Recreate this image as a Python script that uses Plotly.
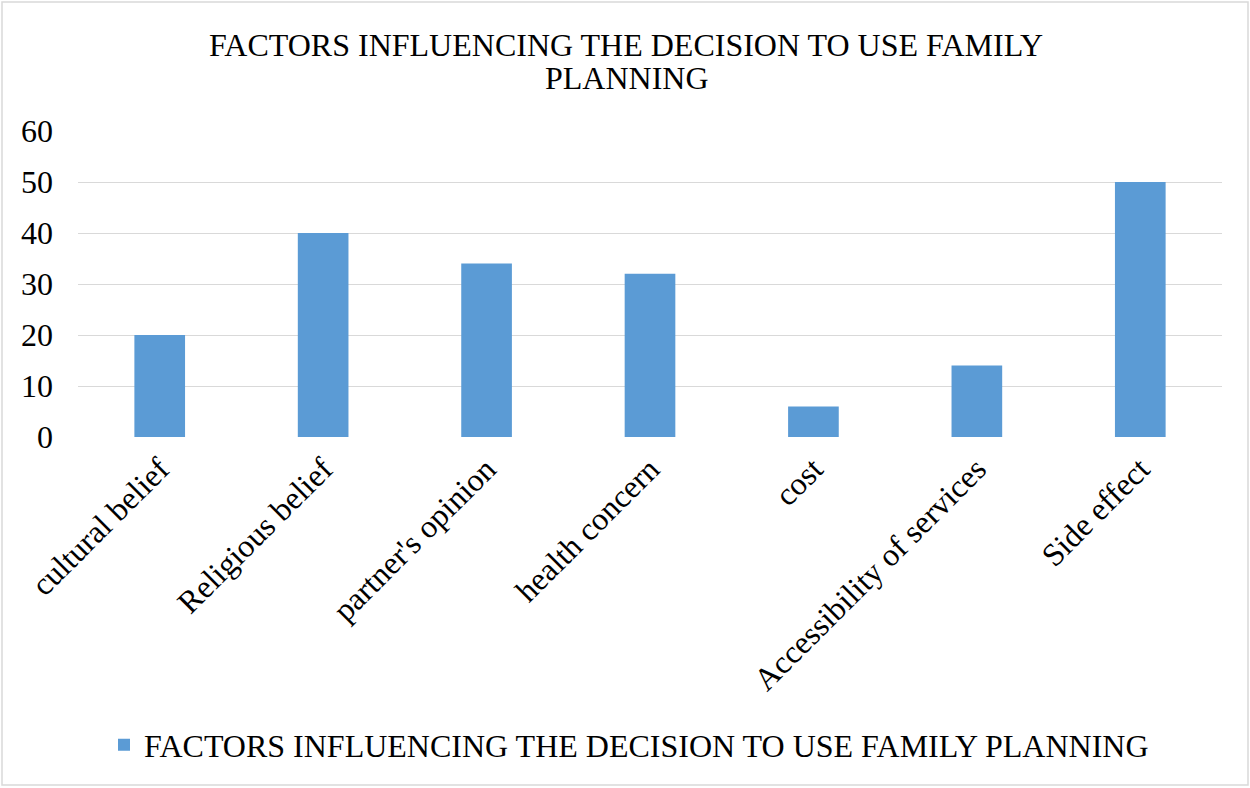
import plotly.graph_objects as go

categories = ["cultural belief", "Religious belief", "partner's opinion", "health concern",
              "cost", "Accessibility of services", "Side effect"]
values = [20, 40, 34, 32, 6, 14, 50]
series_name = "FACTORS INFLUENCING THE DECISION TO USE FAMILY PLANNING"
title_line1 = "FACTORS INFLUENCING THE DECISION TO USE FAMILY"
title_line2 = "PLANNING"

W, H = 1250, 788
L, R, T, B = 78, 28, 131, 351
pw, ph = W - L - R, H - T - B

def px_x(x):
    return (x - L) / pw

def px_y(y):
    return (H - B - y) / ph

FONT = "Liberation Serif, Times New Roman, serif"
FS = 32

fig = go.Figure()
fig.add_trace(go.Bar(x=categories, y=values, name=series_name,
                     marker=dict(color="#5b9bd5", line=dict(width=0)),
                     showlegend=True))

fig.update_layout(
    width=W, height=H,
    margin=dict(l=L, r=R, t=T, b=B),
    paper_bgcolor="white", plot_bgcolor="white",
    font=dict(family=FONT, color="black", size=FS),
    bargap=0.69,
    title=dict(text=title_line1, x=626 / W, xref="container", xanchor="center",
               y=1 - 45 / H, yref="container", yanchor="middle",
               font=dict(family=FONT, size=FS, color="black")),
    annotations=[dict(text=title_line2, xref="paper", yref="paper",
                      x=px_x(627), y=px_y(78), xanchor="center", yanchor="middle",
                      showarrow=False, font=dict(family=FONT, size=FS, color="black"))],
    xaxis=dict(tickangle=-45, tickfont=dict(size=FS, family=FONT, color="black"),
               showgrid=False, zeroline=False, showline=False,
               ticks="", ticklabelstandoff=6),
    yaxis=dict(range=[0, 60], dtick=10, tickfont=dict(size=FS, family=FONT, color="black"),
               showgrid=True, gridcolor="#d9d9d9", gridwidth=1.3,
               zeroline=False, showline=False, ticks="", ticklabelstandoff=24),
    legend=dict(orientation="h", x=0.5 - 21 / pw, xanchor="center",
                y=px_y(745), yanchor="middle",
                font=dict(size=FS, family=FONT, color="black"), itemsizing="constant"),
    shapes=[dict(type="rect", xref="paper", yref="paper",
                 x0=px_x(2), x1=px_x(1248), y0=px_y(785), y1=px_y(2),
                 line=dict(color="#d9d9d9", width=1.5), fillcolor="rgba(0,0,0,0)",
                 layer="below")],
)

fig.write_html("out.html")
